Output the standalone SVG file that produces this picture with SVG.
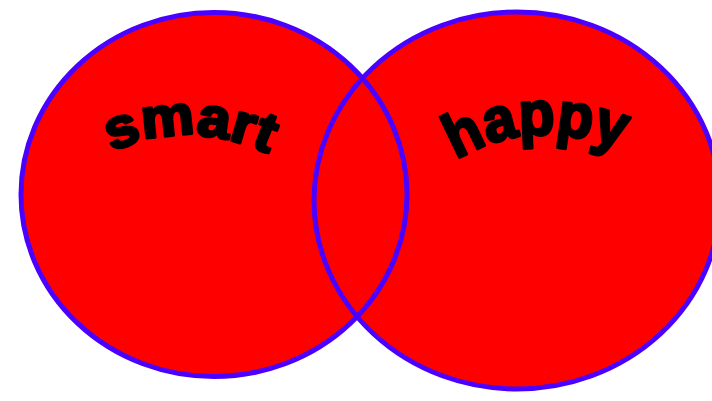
<svg xmlns="http://www.w3.org/2000/svg" xmlns:xlink="http://www.w3.org/1999/xlink" width="712" height="401" viewBox="0 0 712 401">
<style>
.fill{fill:#ff0000;stroke:none}
.ring{fill:none;stroke:#4a00ff;stroke-width:5}
.lbl{font-family:"Liberation Sans",Arial,sans-serif;font-weight:bold;fill:#000;stroke:#000;stroke-width:3;stroke-linejoin:round}
</style>
<defs>
<path id="arcSmart" d="M112,152 Q188,116 274,156"/>
<path id="arcHappy" d="M456,160 Q532,114 628,152"/>
</defs>
<rect width="712" height="401" fill="#fff"/>
<g id="smart">
<ellipse class="fill" cx="214" cy="194.5" rx="193" ry="182"/>
<text class="lbl" font-size="56"><textPath xlink:href="#arcSmart" href="#arcSmart" textLength="162" lengthAdjust="spacingAndGlyphs">smart</textPath></text>
</g>
<g id="happy">
<ellipse class="fill" cx="517" cy="200.5" rx="203" ry="188.5"/>
<text class="lbl" font-size="62"><textPath xlink:href="#arcHappy" href="#arcHappy" textLength="172" lengthAdjust="spacingAndGlyphs">happy</textPath></text>
</g>
<g id="outlines">
<ellipse class="ring" cx="214" cy="194.5" rx="193" ry="182"/>
<ellipse class="ring" cx="517" cy="200.5" rx="203" ry="188.5"/>
</g>
</svg>
